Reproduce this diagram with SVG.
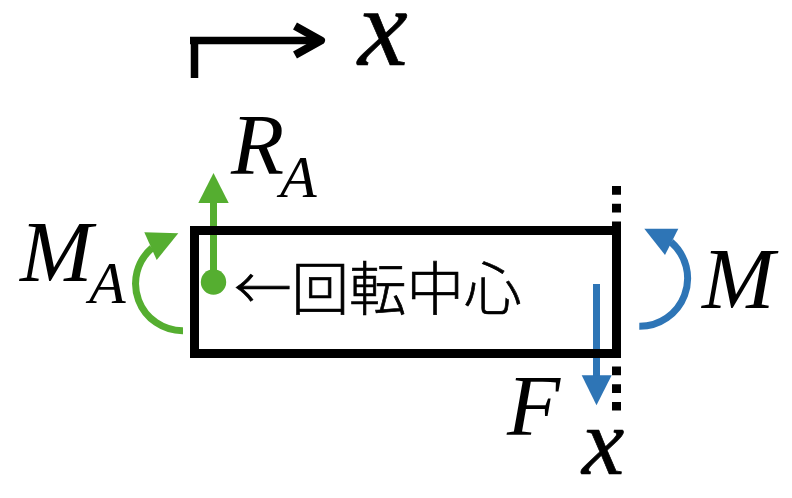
<svg xmlns="http://www.w3.org/2000/svg" width="792" height="498" viewBox="0 0 792 498">
<style>
.m{font-family:"Liberation Serif","Times New Roman",serif;font-style:italic;fill:#000}
.v{stroke:#000;stroke-width:0.7}
.g{fill:none;stroke:#55ae30;stroke-width:7}
.b{fill:none;stroke:#2e75b6;stroke-width:7}
.k{fill:none;stroke:#000}
</style>
<rect width="792" height="498" fill="#fff"/>
<g id="connectors">
<path class="k" stroke-width="7.5" d="M194.5 78V40.5M190 40.5H318"/>
<path class="k" stroke-width="8" stroke-linejoin="round" d="M295 26L321 40.5L295 55"/>
<path class="k" stroke-width="9" stroke-dasharray="8.7 9" d="M616.5 186V227M616.5 366.5V412"/>
<path class="g" d="M213.5 282V200"/><path d="M213.5 173L228.7 203H198.3Z" fill="#55ae30"/>
<path class="g" d="M183 330.7A47 47 0 0 1 152 248"/><path d="M178.3 233.3L156.7 260L144.3 232.3Z" fill="#55ae30"/>
<path class="b" d="M596.5 284V378"/><path d="M596.5 405.3L581.7 375.3H611.7Z" fill="#2e75b6"/>
<path class="b" d="M639.3 326.3A48 48 0 0 0 671 242"/><path d="M644.3 228.7L678.3 228.7L665 255Z" fill="#2e75b6"/>
</g>
<g id="beam"><rect x="194.5" y="230.5" width="422" height="123" fill="none" stroke="#000" stroke-width="9"/></g>
<g id="pivot"><circle cx="213.5" cy="282" r="12.7" fill="#55ae30"/>
<text x="234" y="310" font-size="57.5" font-weight="300" stroke="#000" stroke-width="0.7" font-family="'Noto Sans CJK JP',sans-serif">←回転中心</text></g>
<g id="labels">
<text class="m v" x="358" y="65" font-size="112">x</text>
<text class="m" x="231" y="174" font-size="87">R</text><text class="m" x="280" y="197" font-size="60">A</text>
<text class="m" x="20" y="281" font-size="87">M</text><text class="m" x="89" y="303" font-size="60">A</text>
<text class="m" x="702" y="308" font-size="87">M</text>
<text class="m" x="507" y="435" font-size="87">F</text>
<text class="m v" x="582" y="474" font-size="95">x</text>
</g>
</svg>
